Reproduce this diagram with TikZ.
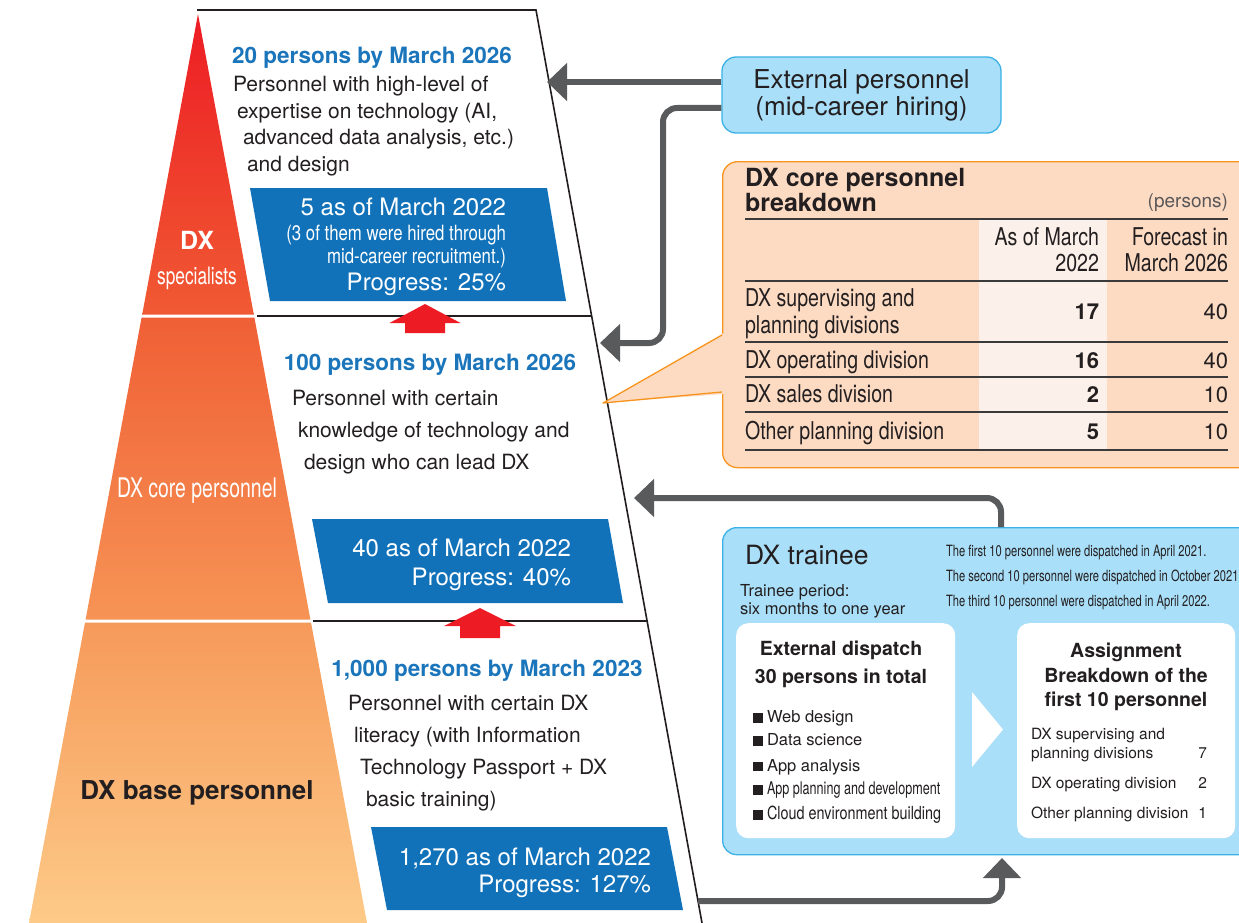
\documentclass[tikz,border=0pt]{standalone}
\usepackage{fontspec}
\setmainfont{TeX Gyre Heros}
\newfontfamily\cnA{TeX Gyre Heros}[FakeStretch=0.8]
\newfontfamily\cnB{TeX Gyre Heros}[FakeStretch=0.9]
\newfontfamily\cnC{TeX Gyre Heros}[FakeStretch=0.72]
\usetikzlibrary{arrows.meta}
\definecolor{ink}{HTML}{231F20}
\definecolor{tblue}{HTML}{1B75BB}
\definecolor{bxblue}{HTML}{1172B9}
\definecolor{arrred}{HTML}{ED1C24}
\definecolor{arrgray}{HTML}{595A5C}
\definecolor{skyfill}{HTML}{A9DFF8}
\definecolor{skyline}{HTML}{3CB1E5}
\definecolor{peach}{HTML}{FDDBC3}
\definecolor{orng}{HTML}{F7941D}
\definecolor{colbg}{HTML}{FCF0EA}
\definecolor{rulec}{HTML}{3A3A3A}
\definecolor{pA}{HTML}{ED1C24}
\definecolor{pB}{HTML}{F05A33}
\definecolor{pC}{HTML}{F05F36}
\definecolor{pD}{HTML}{F69455}
\definecolor{pE}{HTML}{F69A5A}
\definecolor{pF}{HTML}{FDCA88}
\newcommand\myfs[1]{\fontsize{#1}{#1}\selectfont}
\begin{document}
\begin{tikzpicture}[x=1pt,y=-1pt,
  txt/.style={inner sep=0pt,outer sep=0pt,text=ink},
  ttl/.style={txt,text=tblue,font=\myfs{22.5}\bfseries,anchor=base},
  body/.style={txt,font=\myfs{21},anchor=base west},
  wbig/.style={txt,text=white,font=\myfs{24},anchor=base east},
  wsmall/.style={txt,text=white,font=\cnA\myfs{21},anchor=base east},
  trow/.style={txt,font=\cnA\myfs{24.5},anchor=base west},
  thead/.style={txt,font=\cnA\myfs{24.5},anchor=base east},
  tnumb/.style={txt,font=\myfs{22}\bfseries,anchor=base east},
  tnum/.style={txt,font=\myfs{22},anchor=base east},
  note/.style={txt,font=\cnC\myfs{15.5},anchor=base west},
  item/.style={txt,font=\myfs{16.5},anchor=base west},
  asg/.style={txt,font=\myfs{15.5},anchor=base west},
  asgn/.style={txt,font=\myfs{15.5},anchor=base east},
  ibt/.style={txt,font=\myfs{19.5}\bfseries,anchor=base},
  skybox/.style={draw=skyline,line width=1.3pt,fill=skyfill,rounded corners=14pt,inner sep=0pt},
  whitebox/.style={fill=white,rounded corners=12pt,inner sep=0pt},
  garrow/.style={draw=arrgray,line width=6pt,rounded corners=14pt,-{Triangle[width=37pt,length=20pt]}},
  rrule/.style={draw=rulec,line width=1.3pt}]
\useasboundingbox (0,0) rectangle (1239,923);
\clip (0,0) rectangle (1239,923);

% pyramid bands
\shade[top color=pA,bottom color=pB] (198,14) -- (253.8,314.5) -- (142.2,314.5) -- cycle;
\shade[top color=pC,bottom color=pD] (141.6,317.5) -- (254.4,317.5) -- (310.4,619.5) -- (85.6,619.5) -- cycle;
\shade[top color=pE,bottom color=pF] (85,622.5) -- (311,622.5) -- (367,923) -- (29,923) -- cycle;

% outline and dividers
\draw[ink,line width=1.6pt,line join=miter] (197,10) -- (536,10) -- (702,923);
\draw[ink,line width=1.6pt] (257,316) -- (591.5,316);
\draw[ink,line width=1.6pt] (313,621) -- (647,621);

% blue result boxes
\fill[bxblue] (250,188) -- (547,188) -- (566,301) -- (270,301) -- cycle;
\fill[bxblue] (312,519) -- (608,519) -- (623,603) -- (328,603) -- cycle;
\fill[bxblue] (371,827) -- (667,827) -- (683,910) -- (387,910) -- cycle;

% red up arrows
\fill[arrred] (425,304) -- (460.5,323) -- (445,323) -- (445,333) -- (405,333) -- (405,323) -- (389.5,323) -- cycle;
\fill[arrred] (480,608) -- (516,626) -- (500,626) -- (500,638) -- (460,638) -- (460,626) -- (444,626) -- cycle;

% pyramid labels
\node[txt,text=white,font=\myfs{25}\bfseries,anchor=base] (dxA) at (197,249) {DX};
\node[txt,text=white,font=\cnC\myfs{24},anchor=base] (dxB) at (197,284) {specialists};
\node[txt,text=white,font=\cnC\myfs{27},anchor=base] (core) at (197,497) {DX core personnel};
\node[txt,font=\myfs{26}\bfseries,anchor=base] (base) at (197,799) {DX base personnel};

% band 1
\node[ttl] (t1) at (372,64) {20 persons by March 2026};
\node[body] (b1a) at (233,92) {Personnel with high-level of};
\node[body] (b1b) at (237,119) {expertise on technology (AI,};
\node[body] (b1c) at (243,145) {advanced data analysis, etc.)};
\node[body] (b1d) at (247,171) {and design};
\node[wbig] (r1a) at (506,215) {5 as of March 2022};
\node[wsmall] (r1b) at (506,240) {(3 of them were hired through};
\node[wsmall] (r1c) at (506,263) {mid-career recruitment.)};
\node[wbig] (r1d) at (506,290) {Progress: 25\%};

% band 2
\node[ttl] (t2) at (430,370) {100 persons by March 2026};
\node[body] (b2a) at (292,405) {Personnel with certain};
\node[body] (b2b) at (298,437) {knowledge of technology and};
\node[body] (b2c) at (304,469) {design who can lead DX};
\node[wbig] (r2a) at (571,556) {40 as of March 2022};
\node[wbig] (r2b) at (571,585) {Progress: 40\%};

% band 3
\node[ttl] (t3) at (487,676) {1,000 persons by March 2023};
\node[body] (b3a) at (348,710) {Personnel with certain DX};
\node[body] (b3b) at (354,742) {literacy (with Information};
\node[body] (b3c) at (360,774) {Technology Passport + DX};
\node[body] (b3d) at (366,806) {basic training)};
\node[wbig] (r3a) at (651,865) {1,270 as of March 2022};
\node[wbig] (r3b) at (651,892) {Progress: 127\%};

% external personnel box
\node[skybox,minimum width=279pt,minimum height=76pt,align=center,text=ink,
      font=\fontsize{26}{27}\selectfont] (ext) at (861.5,95)
      {External personnel\\(mid-career hiring)};

% callout with table
\node[draw=orng,line width=1.3pt,fill=peach,rounded corners=15pt,inner sep=0pt,
      anchor=north west,minimum width=560pt,minimum height=306pt] (tab) at (722,161) {};
\coordinate (ptip) at (603,403);
\fill[peach] (ptip) -- (724,333) -- (724,394) -- cycle;
\draw[orng,line width=1.3pt,line join=round] (722,335) -- (ptip) -- (722,392);
\fill[colbg] (979,219) rectangle (1107,450);
\node[txt,font=\myfs{25}\bfseries,anchor=base west] (tabt1) at (745,186) {DX core personnel};
\node[txt,font=\myfs{25}\bfseries,anchor=base west] (tabt2) at (745,211) {breakdown};
\node[txt,text=ink!75,font=\myfs{19},anchor=base east] (unit) at (1228,207) {(persons)};
\foreach \yy in {219,281,342,377,412,450} \draw[rrule] (745,\yy) -- (1228,\yy);
\node[thead] (h1a) at (1099,245) {As of March};
\node[thead] (h1b) at (1099,271) {2022};
\node[thead] (h2a) at (1228,245) {Forecast in};
\node[thead] (h2b) at (1228,271) {March 2026};
\node[trow] (ra1) at (745,306) {DX supervising and};
\node[trow] (ra2) at (745,333) {planning divisions};
\node[tnumb] (va1) at (1099,319) {17};
\node[tnum] (vb1) at (1228,319) {40};
\node[trow] (rb) at (745,368) {DX operating division};
\node[tnumb] (va2) at (1099,368) {16};
\node[tnum] (vb2) at (1228,368) {40};
\node[trow] (rc) at (745,402) {DX sales division};
\node[tnumb] (va3) at (1099,402) {2};
\node[tnum] (vb3) at (1228,402) {10};
\node[trow] (rd) at (745,439) {Other planning division};
\node[tnumb] (va4) at (1099,439) {5};
\node[tnum] (vb4) at (1228,439) {10};

% DX trainee box
\node[skybox,anchor=north west,minimum width=560pt,minimum height=327pt] (trainee) at (722,527) {};
\node[txt,font=\myfs{26.5},anchor=base west] (trt) at (745,564) {DX trainee};
\node[txt,font=\myfs{16.5},anchor=base west] (trp1) at (740,596) {Trainee period:};
\node[txt,font=\myfs{16.5},anchor=base west] (trp2) at (740,614) {six months to one year};
\node[note] (n1) at (946,556) {The first 10 personnel were dispatched in April 2021.};
\node[note] (n2) at (946,581) {The second 10 personnel were dispatched in October 2021};
\node[note] (n3) at (946,606) {The third 10 personnel were dispatched in April 2022.};

\node[whitebox,anchor=north west,minimum width=219pt,minimum height=215pt] (disp) at (736,623) {};
\node[ibt] (dt1) at (841,655) {External dispatch};
\node[ibt] (dt2) at (841,683) {30 persons in total};
\node[item] (i1) at (753,722.5) {\rule{9.5pt}{9.5pt}\hspace{4.5pt}Web design};
\node[item] (i2) at (753,745.5) {\rule{9.5pt}{9.5pt}\hspace{4.5pt}Data science};
\node[item] (i3) at (753,771) {\rule{9.5pt}{9.5pt}\hspace{4.5pt}App analysis};
\node[item] (i4) at (753,794.5) {\rule{9.5pt}{9.5pt}\hspace{4.5pt}{\cnC\myfs{17.5}App planning and development}};
\node[item] (i5) at (753,819.5) {\rule{9.5pt}{9.5pt}\hspace{4.5pt}{\cnA\myfs{18}Cloud environment building}};

\fill[white] (972,692) -- (1003,729.5) -- (972,767) -- cycle;

\node[whitebox,anchor=north west,minimum width=218pt,minimum height=215pt] (assign) at (1017,623) {};
\node[ibt] (at1) at (1126,657) {Assignment};
\node[ibt] (at2) at (1126,682) {Breakdown of the};
\node[ibt] (at3) at (1126,706) {first 10 personnel};
\node[asg] (as1) at (1031,739) {DX supervising and};
\node[asg] (as2) at (1031,758) {planning divisions};
\node[asgn] (an1) at (1207,758) {7};
\node[asg] (as3) at (1031,788) {DX operating division};
\node[asgn] (an2) at (1207,788) {2};
\node[asg] (as4) at (1031,818) {Other planning division};
\node[asgn] (an3) at (1207,818) {1};

% gray connectors
\coordinate (tA) at (547,82);
\draw[garrow] (ext.west |- tA) -- (tA);
\coordinate (cB) at (663,343);
\coordinate (tB) at (600,343);
\draw[garrow] ([yshift=-13pt]ext.west) -| (cB) -- (tB);
\coordinate (cC) at (1001,498);
\coordinate (tC) at (634,498);
\draw[garrow] (cC |- trainee.north) -- (cC) -- (tC);
\coordinate (sD) at (698,901);
\coordinate (tD) at (1002,858);
\draw[garrow] (sD) -| (tD);
\end{tikzpicture}
\end{document}
